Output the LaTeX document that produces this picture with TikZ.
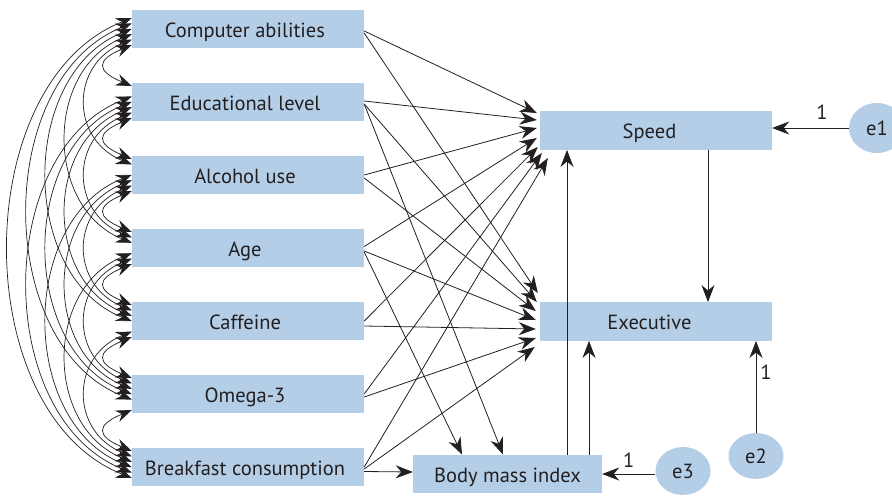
\documentclass[tikz,border=0pt]{standalone}
\usepackage{fontspec}
\setmainfont{PT Sans}
\usetikzlibrary{arrows.meta,shapes.geometric}
\definecolor{boxblue}{RGB}{181,206,232}
\definecolor{ink}{RGB}{35,31,32}
\begin{document}
\begin{tikzpicture}[x=1pt,y=-1pt,
  every node/.style={font=\fontsize{20.5}{24}\selectfont, text=ink},
  var/.style={fill=boxblue, minimum width=232pt, minimum height=38.5pt, inner sep=0pt,
    text height=20pt, text depth=4pt},
  err/.style={ellipse, fill=boxblue, inner sep=0pt},
  reg/.style={draw=ink, line width=0.8pt, -{Stealth[length=17pt,width=13pt,inset=5.5pt]}},
  cov/.style={draw=ink, line width=0.7pt,
    {Stealth[length=16pt,width=12pt,inset=5.5pt]}-{Stealth[length=16pt,width=12pt,inset=5.5pt]}},
  lab/.style={inner sep=0pt}
]
\useasboundingbox (0,0) rectangle (892,496);

% exogenous variables
\node[var] (v1) at (248,29)  {\hspace*{-6pt}Computer abilities};
\node[var] (v2) at (248,102) {\hspace*{-6pt}Educational level};
\node[var] (v3) at (248,175) {\hspace*{-6pt}Alcohol use};
\node[var] (v4) at (248,248) {\hspace*{-6pt}Age};
\node[var] (v5) at (248,321) {\hspace*{-6pt}Caffeine};
\node[var] (v6) at (248,394) {\hspace*{-6pt}Omega-3};
\node[var] (v7) at (248,467) {\hspace*{-6pt}Breakfast consumption};

% endogenous variables
\node[var] (S) at (656,130.5) {\hspace*{-13pt}Speed};
\node[var] (E) at (656,321.5) {\hspace*{-13pt}Executive};
\node[var, minimum width=189pt] (B) at (507.5,474) {Body mass index};

% error terms
\node[err, minimum width=56pt, minimum height=50pt] (e1) at (877,128) {e1};
\node[err, minimum width=55pt, minimum height=46pt] (e2) at (756,456) {e2};
\node[err, minimum width=55pt, minimum height=48pt] (e3) at (683,471) {e3};

% covariances among the exogenous variables
\foreach \ka in {1,...,6}{
  \pgfmathtruncatemacro{\kb}{\ka+1}
  \foreach \kc in {\kb,...,7}{
    \pgfmathsetmacro{\kd}{\kc-\ka}
    \pgfmathsetmacro{\ko}{16-5.4*(\kd-1)}
    \pgfmathsetmacro{\kw}{36+25.6*(\kd-1)}
    \pgfmathsetmacro{\kt}{15+10*(\kd-1)}
    \draw[cov] ([shift={(0,\ko)}]v\ka.west)
      .. controls +(-\kw,\kt) and +(-\kw,-\kt) ..
      ([shift={(0,-\ko)}]v\kc.west);
  }
}

% paths to Speed and Executive
\foreach \ka/\kb/\kc/\kd/\ke/\kf/\kg in {
  1/2/-3/-17.5/4/-2/-28.5,
  2/-1/-3/-10.5/2/-3/-19.5,
  3/0/-3/-2.5/3/-4/-10.5,
  4/-1.5/-3/7.5/3/-4/-1.5,
  5/0/-2/16.5/5/-4/7.5,
  6/0/2/22.5/3/-4/16.5,
  7/0/8/27.5/2/-5/25.5}{
  \draw[reg] ([shift={(0,\kb)}]v\ka.east) -- ([shift={(\kc,\kd)}]S.west);
  \draw[reg] ([shift={(0,\ke)}]v\ka.east) -- ([shift={(\kf,\kg)}]E.west);
}

% paths to Body mass index
\draw[reg] ([shift={(0,2)}]v2.east) -- ([xshift=-4.5pt]B.north);
\draw[reg] ([shift={(0,4)}]v4.east) -- ([xshift=-45.5pt]B.north);
\draw[reg] ([shift={(0,4.5)}]v7.east) -- ([shift={(0,-2)}]B.west);

% paths among the endogenous variables
\draw[reg] ([xshift=59.5pt]B.north) -- ([xshift=59.5pt]B.north |- S.south);
\draw[reg] ([xshift=81.5pt]B.north) -- ([xshift=81.5pt]B.north |- E.south);
\draw[reg] ([xshift=52pt]S.south) -- ([xshift=52pt]E.north);

% error terms
\draw[reg] (e1.west) -- (e1.west -| S.east) node[lab, pos=0.35, above=8pt] {1};
\draw[reg] (e2.north) -- (e2.north |- E.south) node[lab, pos=0.66, right=4pt] {1};
\draw[reg] (B.east -| e3.west) -- (B.east) node[lab, pos=0.5, above=6pt] {1};
\end{tikzpicture}
\end{document}
